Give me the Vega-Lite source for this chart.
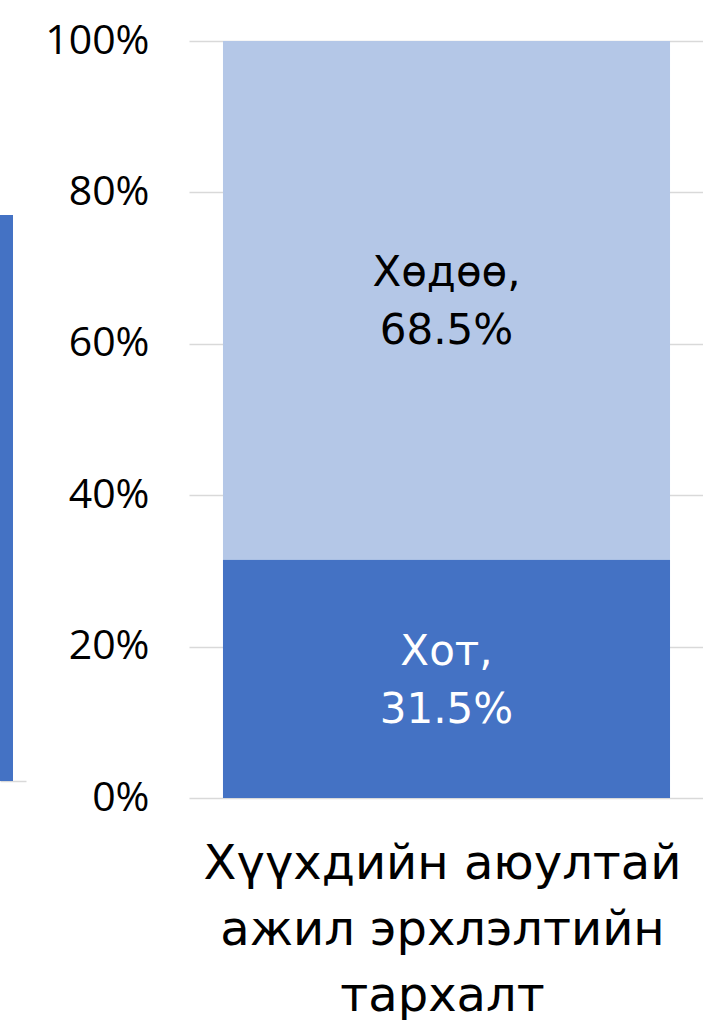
{
  "$schema": "https://vega.github.io/schema/vega-lite/v6.json",
  "padding": {"left": 0, "top": 20, "right": 0, "bottom": 0},
  "background": "white",
  "config": {
    "view": {"stroke": null},
    "font": "DejaVu Sans",
    "axis": {"labelFont": "Open Sans", "titleFont": "DejaVu Sans"}
  },
  "spacing": 18,
  "hconcat": [
    {
      "width": 26,
      "height": 740,
      "data": {"values": [{"cat": "a", "value": 76.5}]},
      "mark": {"type": "bar", "color": "#4472C4"},
      "encoding": {
        "x": {"field": "cat", "type": "nominal", "scale": {"domain": ["a", "b"], "paddingInner": 0, "paddingOuter": 0},
              "axis": {"labels": false, "ticks": false, "title": null, "domainColor": "#d9d9d9", "domainWidth": 1.5}},
        "y": {"field": "value", "type": "quantitative", "scale": {"domain": [0, 100]}, "axis": null}
      }
    },
    {
      "width": 515,
      "height": 757,
      "data": {"values": [
        {"category": "Хүүхдийн аюултай ажил эрхлэлтийн тархалт", "segment": "Хот", "order": 1, "value": 31.5, "label": "Хот,\n31.5%"},
        {"category": "Хүүхдийн аюултай ажил эрхлэлтийн тархалт", "segment": "Хөдөө", "order": 2, "value": 68.5, "label": "Хөдөө,\n68.5%"}
      ]},
      "transform": [
        {"stack": "value", "groupby": ["category"], "sort": [{"field": "order"}], "as": ["v0", "v1"]},
        {"calculate": "(datum.v0 + datum.v1) / 2", "as": "mid"}
      ],
      "encoding": {
        "x": {"field": "category", "type": "nominal",
              "scale": {"paddingInner": 0, "paddingOuter": 0.076},
              "axis": {"labels": false, "ticks": false, "domain": false,
                       "title": ["Хүүхдийн аюултай", "ажил эрхлэлтийн", "тархалт"],
                       "titleFontSize": 48, "titleFontWeight": "normal", "titleColor": "#000000",
                       "titleLineHeight": 66, "titlePadding": 42, "titleX": 253}}
      },
      "layer": [
        {
          "mark": {"type": "bar"},
          "encoding": {
            "y": {"field": "v0", "type": "quantitative", "scale": {"domain": [0, 100]},
                  "axis": {"values": [0, 20, 40, 60, 80, 100], "labelExpr": "datum.value + '%'",
                           "labelFontSize": 41, "labelColor": "#000000", "labelPadding": 40,
                           "ticks": false, "domain": false, "grid": true, "gridColor": "#d9d9d9", "gridWidth": 1.5,
                           "title": null}},
            "y2": {"field": "v1"},
            "color": {"field": "segment", "type": "nominal",
                      "scale": {"domain": ["Хот", "Хөдөө"], "range": ["#4472C4", "#B4C7E7"]}, "legend": null}
          }
        },
        {
          "mark": {"type": "text", "fontSize": 42, "font": "DejaVu Sans", "lineBreak": "\n", "lineHeight": 58, "baseline": "middle", "align": "center", "dy": -27},
          "encoding": {
            "y": {"field": "mid", "type": "quantitative"},
            "text": {"field": "label"},
            "color": {"field": "segment", "type": "nominal",
                      "scale": {"domain": ["Хот", "Хөдөө"], "range": ["#ffffff", "#000000"]}, "legend": null}
          }
        }
      ],
      "resolve": {"scale": {"color": "independent"}}
    }
  ]
}
